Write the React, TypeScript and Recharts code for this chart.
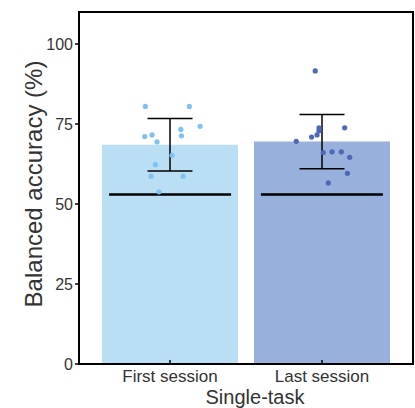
import React from 'react'
import {
  ComposedChart,
  Bar,
  Cell,
  ErrorBar,
  Scatter,
  XAxis,
  YAxis,
  ReferenceArea,
} from 'recharts'

// group means, error (sd) and chance level per session
const categories = ['First session', 'Last session']
const means = [68.5, 69.5]
const errors = [8.2, 8.5]
const chance = [53, 53]

// individual subjects, value + horizontal jitter (in category units)
const firstValues = [80.5, 80.5, 74.3, 73.3, 71.1, 71.6, 71.3, 69.4, 65.2, 62.3, 58.7, 58.7, 53.8]
const firstJitter = [-0.163, 0.127, 0.198, 0.071, -0.167, -0.119, 0.075, -0.086, 0.013, -0.097, -0.125, 0.086, -0.073]
const lastValues = [91.6, 73.8, 73.8, 72.9, 71.6, 70.9, 69.6, 66.1, 66.3, 66.3, 64.6, 59.6, 56.6]
const lastJitter = [-0.044, 0.15, -0.019, -0.019, -0.032, -0.068, -0.169, 0.009, 0.067, 0.128, 0.183, 0.168, 0.042]

const yTicks = [0, 25, 50, 75, 100]

const barColors = ['#badff5', '#97b0dc']
const dotColors = ['#7fc2ef', '#4d68b6']

const barData = categories.map((name, i) => ({
  name,
  mean: means[i],
  err: errors[i],
}))
const chanceData = chance.map((v, i) => ({ x: i + 1, y: v }))
const firstDots = firstValues.map((v, i) => ({ x: 1 + firstJitter[i], y: v }))
const lastDots = lastValues.map((v, i) => ({ x: 2 + lastJitter[i], y: v }))

const FONT = '"Liberation Sans", Arial, sans-serif'
const TEXT = '#333333'

const XTick = ({ x, y, payload }: any) => (
  <g>
    <line x1={x} x2={x} y1={y} y2={y - 4} stroke="#000" strokeWidth={1.5} />
    <text x={x} y={y + 12} textAnchor="middle" dominantBaseline="central" fontSize={17} fill={TEXT} fontFamily={FONT}>
      {payload.value}
    </text>
  </g>
)

const Dot = (color: string) => (props: any) => (
  <circle cx={props.cx} cy={props.cy} r={2.6} fill={color} />
)

const ChanceLine = (props: any) => (
  <line x1={props.cx - 61} x2={props.cx + 61} y1={props.cy} y2={props.cy} stroke="#000" strokeWidth={2.5} />
)

export default function App() {
  return (
    <div style={{ position: 'absolute', left: 0, top: 0, background: '#fff' }}>
      <ComposedChart
        width={415}
        height={408}
        data={barData}
        margin={{ top: 12, right: 2, bottom: 0, left: 0 }}
      >
        <XAxis
          xAxisId="cat"
          dataKey="name"
          padding={{ left: 15, right: 15 }}
          height={44}
          axisLine={{ stroke: '#000', strokeWidth: 2 }}
          tickLine={false}
          tickSize={0}
          tickMargin={0}
          tick={<XTick />}
          label={{
            content: (p: any) => (
              <text
                x={p.viewBox.x + p.viewBox.width / 2 + 9}
                y={397}
                textAnchor="middle"
                dominantBaseline="central"
                fontSize={20}
                fill={TEXT}
                fontFamily={FONT}
              >
                Single-task
              </text>
            ),
          }}
        />
        <XAxis
          xAxisId="num"
          dataKey="x"
          type="number"
          domain={[0.4, 2.6]}
          allowDataOverflow
          hide
        />
        <YAxis
          type="number"
          domain={[0, 110]}
          allowDataOverflow
          ticks={yTicks}
          width={79}
          tickSize={4}
          tickMargin={2}
          axisLine={{ stroke: '#000', strokeWidth: 2 }}
          tickLine={{ stroke: '#000', strokeWidth: 1.5 }}
          tick={{ fontSize: 16, fill: TEXT, fontFamily: FONT }}
          label={{
            content: (p: any) => {
              const cy = p.viewBox.y + p.viewBox.height / 2 - 4
              return (
                <text
                  x={33}
                  y={cy}
                  transform={`rotate(-90, 33, ${cy})`}
                  textAnchor="middle"
                  dominantBaseline="central"
                  fontSize={24}
                  fill={TEXT}
                  fontFamily={FONT}
                >
                  Balanced accuracy (%)
                </text>
              )
            },
          }}
        />
        <Bar dataKey="mean" xAxisId="cat" barSize={136} isAnimationActive={false}>
          {barData.map((_, i) => (
            <Cell key={i} fill={barColors[i]} />
          ))}
          <ErrorBar dataKey="err" width={22.5} stroke="#000" strokeWidth={1.5} direction="y" />
        </Bar>
        <Scatter xAxisId="num" data={chanceData} dataKey="y" shape={ChanceLine} isAnimationActive={false} />
        <Scatter xAxisId="num" data={firstDots} dataKey="y" shape={Dot(dotColors[0])} isAnimationActive={false} />
        <Scatter xAxisId="num" data={lastDots} dataKey="y" shape={Dot(dotColors[1])} isAnimationActive={false} />
        <ReferenceArea
          xAxisId="num"
          x1={0.4}
          x2={2.6}
          y1={0}
          y2={110}
          fill="none"
          stroke="#000"
          strokeWidth={2}
        />
      </ComposedChart>
    </div>
  )
}
